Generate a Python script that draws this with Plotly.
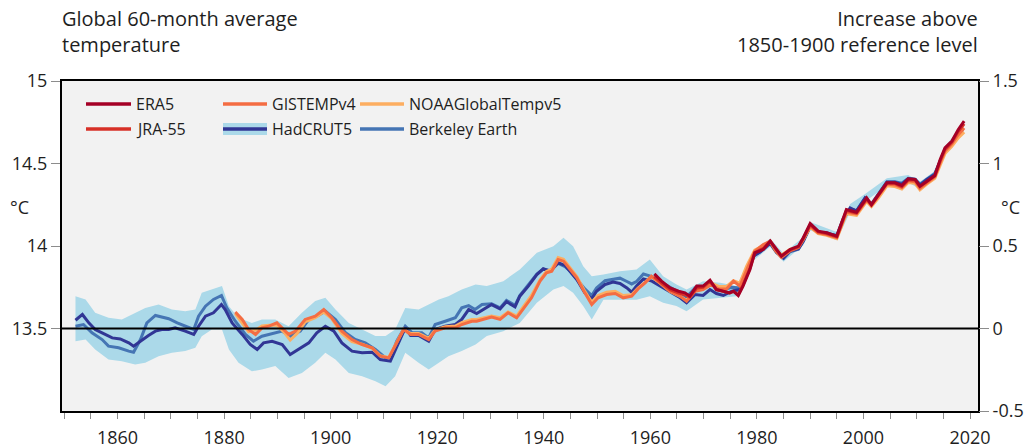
import plotly.graph_objects as go

# ---------------------------------------------------------------
# Global 60-month running-average surface temperature (deg C)
# ---------------------------------------------------------------

hadcrut_years = [1852.1, 1853.4, 1854.6, 1855.8, 1857.1, 1859.0, 1860.5, 1862.1, 1863.0, 1864.6,
                 1865.8, 1867.1, 1868.3, 1869.6, 1870.8, 1872.7, 1874.3, 1875.2, 1876.5, 1878.0,
                 1879.5, 1880.2, 1881.5, 1883.4, 1884.9, 1886.2, 1887.4, 1889.0, 1890.9, 1892.4,
                 1894.0, 1895.9, 1897.4, 1899.0, 1900.6, 1902.1, 1904.0, 1905.9, 1907.8, 1909.3,
                 1911.2, 1912.4, 1914.0, 1915.0, 1916.5, 1918.4, 1919.6, 1921.5, 1923.4, 1924.6,
                 1925.9, 1927.4, 1928.7, 1930.2, 1931.8, 1933.0, 1934.6, 1935.5, 1937.1, 1938.7,
                 1939.9, 1941.2, 1942.7, 1944.0, 1944.9, 1946.2, 1947.7, 1949.0, 1949.9, 1951.5,
                 1953.0, 1954.3, 1955.6, 1956.5, 1957.4, 1958.7, 1960.3, 1961.8, 1963.7, 1965.6,
                 1966.8, 1968.4, 1969.9, 1971.2, 1972.4, 1973.7, 1975.3, 1976.8, 1978.1, 1979.3,
                 1980.6, 1982.5, 1983.7, 1985.0, 1986.2, 1987.8, 1988.7, 1990.0, 1991.5, 1993.1,
                 1995.0, 1996.2, 1997.5, 1998.7, 2000.3, 2001.5, 2002.8, 2004.4, 2005.9, 2007.2,
                 2008.4, 2009.7, 2010.6, 2011.9, 2013.4, 2014.4, 2015.3, 2016.6, 2017.8, 2018.7]
hadcrut_temp = [13.550, 13.585, 13.534, 13.494, 13.474, 13.443, 13.437, 13.413, 13.393, 13.433,
                13.458, 13.484, 13.494, 13.494, 13.504, 13.484, 13.464, 13.514, 13.575, 13.595,
                13.645, 13.615, 13.534, 13.464, 13.403, 13.373, 13.413, 13.423, 13.403, 13.342,
                13.373, 13.413, 13.474, 13.514, 13.484, 13.413, 13.363, 13.353, 13.356, 13.312,
                13.302, 13.393, 13.504, 13.458, 13.458, 13.423, 13.494, 13.514, 13.524, 13.555,
                13.615, 13.591, 13.615, 13.645, 13.619, 13.662, 13.631, 13.696, 13.757, 13.827,
                13.862, 13.847, 13.898, 13.882, 13.847, 13.797, 13.716, 13.680, 13.726, 13.767,
                13.781, 13.773, 13.746, 13.720, 13.757, 13.801, 13.787, 13.757, 13.720, 13.686,
                13.656, 13.706, 13.700, 13.736, 13.712, 13.700, 13.726, 13.736, 13.827, 13.938,
                13.963, 14.019, 13.963, 13.928, 13.969, 13.983, 14.029, 14.120, 14.080, 14.080,
                14.060, 14.161, 14.231, 14.211, 14.292, 14.251, 14.312, 14.387, 14.387, 14.373,
                14.407, 14.403, 14.367, 14.403, 14.433, 14.514, 14.585, 14.625, 14.686, 14.716]

# HadCRUT5 ensemble uncertainty range
band_years = [1852.1, 1854.0, 1855.8, 1858.3, 1860.8, 1863.3, 1865.2, 1867.7, 1870.2, 1872.7,
              1874.6, 1875.8, 1877.7, 1879.6, 1880.9, 1882.7, 1885.2, 1887.1, 1889.6, 1892.1,
              1894.6, 1897.1, 1899.0, 1900.9, 1903.4, 1905.9, 1908.4, 1910.3, 1912.1, 1914.0,
              1916.5, 1918.4, 1920.3, 1922.1, 1924.6, 1927.2, 1929.3, 1932.4, 1935.5, 1938.7,
              1941.8, 1943.7, 1945.5, 1947.4, 1949.0, 1951.2, 1954.3, 1957.4, 1959.9, 1962.4,
              1964.9, 1966.8, 1969.9, 1973.1, 1976.2, 1979.3, 1982.5, 1985.0, 1988.7, 1990.0,
              1995.0, 1997.5, 2000.3, 2004.4, 2008.4, 2010.6, 2013.4, 2015.3, 2018.7]
band_upper = [13.696, 13.676, 13.595, 13.565, 13.555, 13.595, 13.625, 13.645, 13.615, 13.605,
              13.615, 13.716, 13.736, 13.757, 13.635, 13.565, 13.534, 13.555, 13.555, 13.514,
              13.595, 13.666, 13.686, 13.615, 13.534, 13.494, 13.454, 13.454, 13.494, 13.625,
              13.615, 13.645, 13.676, 13.696, 13.736, 13.767, 13.757, 13.787, 13.858, 13.959,
              13.999, 14.050, 13.999, 13.878, 13.817, 13.827, 13.847, 13.858, 13.918, 13.817,
              13.767, 13.736, 13.787, 13.777, 13.757, 13.965, 14.045, 13.955, 14.055, 14.145,
              14.085, 14.255, 14.315, 14.410, 14.430, 14.390, 14.455, 14.605, 14.735]
band_lower = [13.423, 13.433, 13.373, 13.312, 13.302, 13.282, 13.292, 13.332, 13.353, 13.363,
              13.383, 13.453, 13.494, 13.494, 13.373, 13.292, 13.241, 13.251, 13.272, 13.200,
              13.231, 13.292, 13.353, 13.312, 13.231, 13.211, 13.181, 13.150, 13.211, 13.353,
              13.292, 13.251, 13.292, 13.332, 13.363, 13.403, 13.454, 13.484, 13.534, 13.656,
              13.736, 13.757, 13.716, 13.636, 13.555, 13.675, 13.675, 13.675, 13.696, 13.656,
              13.636, 13.605, 13.676, 13.686, 13.696, 13.910, 13.995, 13.905, 14.005, 14.095,
              14.035, 14.205, 14.270, 14.365, 14.385, 14.345, 14.410, 14.565, 14.695]

berkeley_years = [1852.1, 1853.6, 1855.2, 1857.1, 1858.3, 1860.2, 1862.1, 1863.0, 1864.3, 1865.5,
                  1867.1, 1868.3, 1869.6, 1871.2, 1872.7, 1874.3, 1875.2, 1876.5, 1878.0, 1879.5,
                  1880.5, 1882.1, 1884.0, 1885.5, 1887.1, 1889.0, 1890.9, 1892.4, 1894.3, 1895.9,
                  1897.4, 1899.0, 1900.9, 1902.8, 1904.6, 1906.5, 1908.4, 1910.3, 1911.2, 1912.4,
                  1914.0, 1915.3, 1917.1, 1918.4, 1919.6, 1921.5, 1923.4, 1924.6, 1925.9, 1927.1,
                  1928.4, 1930.2, 1931.8, 1933.0, 1934.6, 1935.5, 1937.1, 1938.7, 1939.9, 1941.2,
                  1942.7, 1944.0, 1944.9, 1946.2, 1947.7, 1949.0, 1949.9, 1951.5, 1953.0, 1954.3,
                  1955.6, 1956.5, 1957.4, 1958.7, 1960.3, 1961.8, 1963.7, 1965.6, 1966.8, 1968.4,
                  1969.9, 1971.2, 1972.4, 1973.7, 1975.3, 1976.8, 1978.1, 1979.3, 1980.6, 1982.5,
                  1983.7, 1985.0, 1986.2, 1987.8, 1988.7, 1990.0, 1991.5, 1993.1, 1995.0, 1996.2,
                  1997.5, 1998.7, 2000.3, 2001.5, 2002.8, 2004.4, 2005.9, 2007.2, 2008.4, 2009.7,
                  2010.6, 2011.9, 2013.4, 2014.4, 2015.3, 2016.6, 2017.8, 2018.7]
berkeley_temp = [13.514, 13.524, 13.474, 13.433, 13.393, 13.383, 13.363, 13.356, 13.433, 13.534,
                 13.579, 13.571, 13.559, 13.534, 13.514, 13.494, 13.575, 13.635, 13.676, 13.700,
                 13.625, 13.544, 13.464, 13.423, 13.453, 13.470, 13.484, 13.453, 13.484, 13.555,
                 13.575, 13.605, 13.555, 13.474, 13.433, 13.413, 13.373, 13.322, 13.322, 13.423,
                 13.514, 13.474, 13.474, 13.443, 13.524, 13.544, 13.565, 13.625, 13.639, 13.615,
                 13.645, 13.650, 13.625, 13.670, 13.640, 13.700, 13.765, 13.830, 13.860, 13.850,
                 13.895, 13.875, 13.850, 13.800, 13.740, 13.700, 13.745, 13.790, 13.800, 13.805,
                 13.785, 13.770, 13.785, 13.830, 13.815, 13.785, 13.750, 13.715, 13.690, 13.745,
                 13.745, 13.775, 13.745, 13.735, 13.750, 13.745, 13.830, 13.940, 13.965, 14.015,
                 13.960, 13.925, 13.965, 13.980, 14.030, 14.115, 14.085, 14.075, 14.065, 14.165,
                 14.225, 14.215, 14.290, 14.255, 14.315, 14.390, 14.390, 14.380, 14.410, 14.405,
                 14.375, 14.405, 14.440, 14.515, 14.580, 14.625, 14.680, 14.705]

gistemp_years = [1882.1, 1883.4, 1884.6, 1885.9, 1887.1, 1888.4, 1889.9, 1891.2, 1892.1, 1893.4,
                 1895.2, 1897.1, 1898.7, 1900.2, 1902.1, 1904.0, 1905.9, 1907.8, 1909.3, 1910.9,
                 1912.1, 1913.7, 1915.0, 1916.5, 1918.4, 1919.6, 1921.5, 1923.4, 1924.6, 1926.5,
                 1927.4, 1928.7, 1930.2, 1931.8, 1933.3, 1934.9, 1936.5, 1937.7, 1939.3, 1940.5,
                 1941.5, 1942.7, 1943.7, 1944.9, 1946.2, 1947.7, 1949.0, 1950.2, 1951.8, 1953.4,
                 1954.9, 1956.5, 1957.7, 1959.0, 1960.2, 1961.8, 1963.7, 1965.6, 1966.8, 1968.4,
                 1969.9, 1971.5, 1972.8, 1974.3, 1975.6, 1976.8, 1978.1, 1979.6, 1981.2, 1982.5,
                 1983.4, 1984.6, 1986.2, 1987.8, 1988.7, 1990.0, 1991.5, 1993.1, 1995.0, 1996.8,
                 1998.7, 2000.6, 2001.5, 2002.8, 2004.4, 2005.9, 2007.2, 2008.4, 2009.7, 2010.6,
                 2011.9, 2013.4, 2014.4, 2015.3, 2016.6, 2017.8, 2018.9]
gistemp_temp = [13.600, 13.555, 13.494, 13.464, 13.504, 13.514, 13.534, 13.494, 13.464, 13.484,
                13.555, 13.575, 13.615, 13.565, 13.484, 13.433, 13.403, 13.383, 13.332, 13.322,
                13.393, 13.494, 13.464, 13.464, 13.433, 13.484, 13.504, 13.504, 13.524, 13.544,
                13.544, 13.555, 13.569, 13.555, 13.595, 13.565, 13.635, 13.686, 13.787, 13.837,
                13.847, 13.918, 13.908, 13.858, 13.807, 13.716, 13.645, 13.686, 13.706, 13.712,
                13.686, 13.696, 13.740, 13.777, 13.817, 13.777, 13.726, 13.696, 13.666, 13.726,
                13.736, 13.767, 13.740, 13.740, 13.787, 13.757, 13.858, 13.969, 14.009, 14.029,
                13.975, 13.930, 13.970, 13.990, 14.040, 14.120, 14.080, 14.070, 14.050, 14.205,
                14.195, 14.280, 14.245, 14.300, 14.375, 14.370, 14.355, 14.395, 14.390, 14.350,
                14.385, 14.420, 14.505, 14.575, 14.620, 14.675, 14.715]

noaa_years = [1882.1, 1883.4, 1884.6, 1885.9, 1887.1, 1888.4, 1889.9, 1891.2, 1892.4, 1893.7,
              1895.2, 1897.1, 1898.7, 1900.2, 1902.1, 1904.0, 1905.9, 1907.8, 1909.3, 1910.9,
              1912.1, 1913.7, 1915.0, 1916.5, 1918.4, 1919.6, 1921.5, 1923.4, 1924.6, 1926.5,
              1927.4, 1928.7, 1930.2, 1931.8, 1933.3, 1934.9, 1936.5, 1937.7, 1939.3, 1940.5,
              1941.5, 1942.7, 1943.7, 1944.9, 1946.2, 1947.7, 1949.0, 1950.2, 1951.8, 1953.4,
              1954.9, 1956.5, 1957.7, 1959.0, 1960.2, 1961.8, 1963.7, 1965.6, 1966.8, 1968.4,
              1969.9, 1971.5, 1972.8, 1974.3, 1975.6, 1976.8, 1978.1, 1979.6, 1981.2, 1982.5,
              1983.4, 1984.6, 1986.2, 1987.8, 1988.7, 1990.0, 1991.5, 1993.1, 1995.0, 1996.8,
              1998.7, 2000.6, 2001.5, 2002.8, 2004.4, 2005.9, 2007.2, 2008.4, 2009.7, 2010.6,
              2011.9, 2013.4, 2014.4, 2015.3, 2016.6, 2017.8, 2018.9]
noaa_temp = [13.590, 13.530, 13.480, 13.490, 13.515, 13.520, 13.520, 13.480, 13.430, 13.470,
             13.540, 13.565, 13.600, 13.560, 13.470, 13.420, 13.405, 13.380, 13.335, 13.325,
             13.400, 13.495, 13.470, 13.470, 13.440, 13.490, 13.510, 13.515, 13.535, 13.555,
             13.555, 13.565, 13.575, 13.565, 13.600, 13.575, 13.645, 13.700, 13.795, 13.845,
             13.860, 13.930, 13.920, 13.870, 13.815, 13.725, 13.660, 13.700, 13.720, 13.725,
             13.700, 13.705, 13.745, 13.780, 13.815, 13.775, 13.725, 13.695, 13.670, 13.730,
             13.745, 13.775, 13.755, 13.755, 13.790, 13.775, 13.880, 13.975, 14.005, 14.025,
             13.985, 13.945, 13.980, 13.995, 14.040, 14.115, 14.075, 14.065, 14.045, 14.195,
             14.185, 14.270, 14.240, 14.290, 14.365, 14.360, 14.345, 14.385, 14.380, 14.340,
             14.375, 14.410, 14.490, 14.560, 14.605, 14.655, 14.690]

era5_years = [1960.75, 1962.1, 1963.7, 1965.3, 1966.5, 1967.4, 1968.7, 1969.9, 1971.2, 1972.4,
              1973.7, 1974.9, 1975.6, 1976.5, 1977.4, 1978.7, 1979.6, 1981.2, 1982.5, 1983.4,
              1984.6, 1986.2, 1987.8, 1988.7, 1990.0, 1991.5, 1993.1, 1995.0, 1996.8, 1998.7,
              2000.6, 2001.5, 2002.8, 2004.4, 2005.9, 2007.2, 2008.4, 2009.7, 2010.6, 2011.9,
              2013.4, 2014.4, 2015.3, 2016.6, 2017.8, 2018.9]
era5_temp = [13.831, 13.787, 13.746, 13.726, 13.716, 13.696, 13.757, 13.757, 13.793, 13.736,
             13.726, 13.716, 13.726, 13.700, 13.757, 13.858, 13.959, 13.979, 14.029, 13.988,
             13.938, 13.979, 13.999, 14.050, 14.136, 14.090, 14.080, 14.060, 14.221, 14.205,
             14.292, 14.251, 14.312, 14.383, 14.383, 14.367, 14.407, 14.403, 14.363, 14.393,
             14.427, 14.524, 14.595, 14.636, 14.706, 14.757]

jra55_years = list(era5_years)
jra55_temp = [13.815, 13.775, 13.735, 13.715, 13.705, 13.690, 13.745, 13.750, 13.785, 13.735,
              13.725, 13.715, 13.725, 13.705, 13.765, 13.865, 13.960, 13.985, 14.030, 13.990,
              13.940, 13.975, 13.995, 14.045, 14.130, 14.085, 14.075, 14.055, 14.215, 14.200,
              14.285, 14.250, 14.305, 14.380, 14.380, 14.360, 14.400, 14.400, 14.360, 14.390,
              14.425, 14.515, 14.585, 14.630, 14.695, 14.740]

# Series styling
COL_ERA5 = "#a50026"
COL_JRA = "#d73027"
COL_GISS = "#f46d43"
COL_NOAA = "#fdae61"
COL_HAD = "#313695"
COL_BAND = "#abd9e9"
COL_BERK = "#4575b4"

W, H = 1030, 448
M_L, M_R, M_T, M_B = 62, 52, 81, 37
PW, PH = W - M_L - M_R, H - M_T - M_B
FONT = "Open Sans"
TXT = "#1e1e1e"
TICKC = "#8c8c8c"


def px_x(px):
    return (px - M_L) / PW


def px_y(py):
    return (H - M_B - py) / PH


fig = go.Figure()

fig.add_trace(go.Scatter(
    x=band_years + band_years[::-1],
    y=band_upper + band_lower[::-1],
    fill="toself", fillcolor=COL_BAND, line=dict(width=0),
    mode="lines", hoverinfo="skip", showlegend=False))

series = [
    ("Berkeley Earth", berkeley_years, berkeley_temp, COL_BERK),
    ("HadCRUT5", hadcrut_years, hadcrut_temp, COL_HAD),
    ("NOAAGlobalTempv5", noaa_years, noaa_temp, COL_NOAA),
    ("GISTEMPv4", gistemp_years, gistemp_temp, COL_GISS),
    ("JRA-55", jra55_years, jra55_temp, COL_JRA),
    ("ERA5", era5_years, era5_temp, COL_ERA5),
]
for name, xs, ys, col in series:
    fig.add_trace(go.Scatter(x=xs, y=ys, mode="lines", name=name,
                             line=dict(color=col, width=3), showlegend=False))

# invisible trace to activate the right-hand anomaly axis
fig.add_trace(go.Scatter(x=[1900], y=[0], yaxis="y2", mode="markers",
                         marker=dict(opacity=0), hoverinfo="skip", showlegend=False))

# hand-built legend (three columns, two rows)
legend_items = [
    ("ERA5", COL_ERA5, 86, 131, 104, False),
    ("JRA-55", COL_JRA, 86, 131, 129, False),
    ("GISTEMPv4", COL_GISS, 223, 267, 104, False),
    ("HadCRUT5", COL_HAD, 223, 267, 129, True),
    ("NOAAGlobalTempv5", COL_NOAA, 360, 404, 104, False),
    ("Berkeley Earth", COL_BERK, 360, 404, 129, False),
]
shapes = []
annotations = []
for label, col, x0, x1, yc, banded in legend_items:
    if banded:
        shapes.append(dict(type="rect", xref="paper", yref="paper",
                           x0=px_x(x0), x1=px_x(x1), y0=px_y(yc + 6), y1=px_y(yc - 6),
                           fillcolor=COL_BAND, line=dict(width=0), layer="above"))
    shapes.append(dict(type="line", xref="paper", yref="paper",
                       x0=px_x(x0), x1=px_x(x1), y0=px_y(yc), y1=px_y(yc),
                       line=dict(color=col, width=3.5), layer="above"))
    annotations.append(dict(text=label, xref="paper", yref="paper",
                            x=px_x(x1 + 3), y=px_y(yc), xanchor="left", yanchor="middle",
                            showarrow=False, font=dict(family=FONT, size=16, color=TXT)))

# reference (1850-1900) level
shapes.append(dict(type="line", xref="paper", yref="y", x0=0, x1=1, y0=13.5, y1=13.5,
                   line=dict(color="black", width=2), layer="above"))

annotations += [
    dict(text="Global 60-month average<br>temperature", xref="paper", yref="paper",
         x=px_x(60), y=px_y(3), xanchor="left", yanchor="top", align="left",
         showarrow=False, font=dict(family=FONT, size=20, color=TXT)),
    dict(text="Increase above<br>1850-1900 reference level", xref="paper", yref="paper",
         x=px_x(980), y=px_y(3), xanchor="right", yanchor="top", align="right",
         showarrow=False, font=dict(family=FONT, size=20, color=TXT)),
    dict(text="°C", xref="paper", yref="paper", x=px_x(19), y=px_y(207),
         xanchor="center", yanchor="middle", showarrow=False,
         font=dict(family=FONT, size=18, color=TXT)),
    dict(text="°C", xref="paper", yref="paper", x=px_x(1010), y=px_y(207),
         xanchor="center", yanchor="middle", showarrow=False,
         font=dict(family=FONT, size=18, color=TXT)),
]

fig.update_layout(
    width=W, height=H,
    margin=dict(l=M_L, r=M_R, t=M_T, b=M_B, pad=0, autoexpand=False),
    paper_bgcolor="white", plot_bgcolor="#f2f2f2",
    font=dict(family=FONT, size=18, color=TXT),
    showlegend=False,
    shapes=shapes, annotations=annotations,
    xaxis=dict(range=[1849.57, 2021.5], tickmode="linear", tick0=1860, dtick=20,
               ticks="outside", ticklen=6, tickcolor=TICKC, tickwidth=1,
               ticklabelstandoff=3,
               minor=dict(tickmode="linear", tick0=1850, dtick=5, ticks="outside",
                          ticklen=6, tickcolor=TICKC, tickwidth=1),
               showgrid=False, zeroline=False, showline=True, mirror=True,
               linecolor="black", linewidth=2, automargin=False,
               tickfont=dict(family=FONT, size=18, color=TXT)),
    yaxis=dict(range=[13.0, 15.0], tickvals=[13.5, 14, 14.5, 15],
               ticktext=["13.5", "14", "14.5", "15"],
               ticks="outside", ticklen=9, tickcolor=TICKC, tickwidth=1,
               showgrid=False, zeroline=False, showline=True, mirror=True,
               linecolor="black", linewidth=2, automargin=False,
               tickfont=dict(family=FONT, size=18, color=TXT)),
    yaxis2=dict(range=[-0.5, 1.5], overlaying="y", side="right",
                tickvals=[-0.5, 0, 0.5, 1, 1.5], ticktext=["-0.5", "0", "0.5", "1", "1.5"],
                ticks="outside", ticklen=10, tickcolor=TICKC, tickwidth=1,
                showgrid=False, zeroline=False, showline=False, automargin=False,
                tickfont=dict(family=FONT, size=18, color=TXT)),
)

fig.write_html("out.html")
